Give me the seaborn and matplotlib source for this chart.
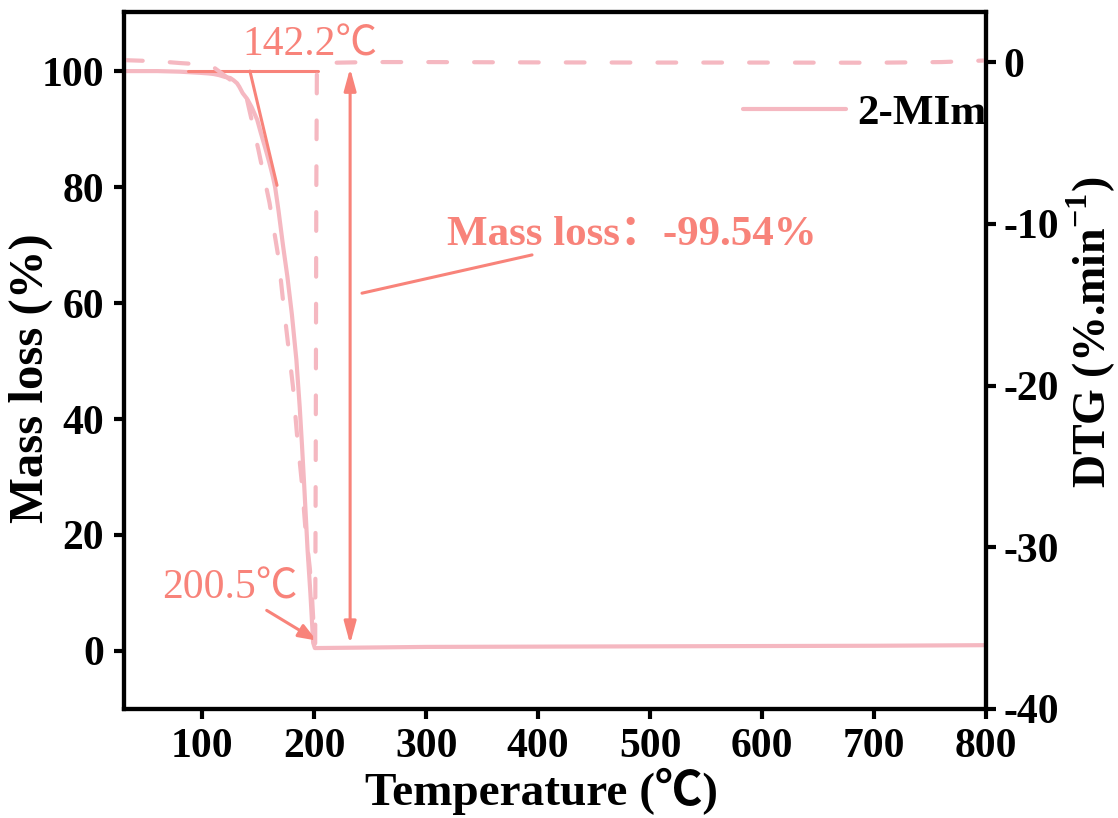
import numpy as np
import pandas as pd
import matplotlib
matplotlib.use("Agg")
import matplotlib.pyplot as plt
import seaborn as sns

# ---- data -------------------------------------------------------------
# TG curve: temperature (°C) vs remaining mass (%)
tg_temp = [30, 60, 80, 98, 105, 110, 115, 120, 125, 128, 131, 133, 136, 140,
           144, 149, 152, 157, 160, 163, 165, 168, 172, 176, 180, 184, 187,
           189, 191, 194, 196.5, 199, 200.5, 250, 300, 400, 500, 600, 700, 800]
tg_mass = [100.0, 100.0, 99.9, 99.7, 99.6, 99.5, 99.3, 99.0, 98.8, 98.4,
           97.9, 97.3, 96.2, 95.2, 93.8, 91.6, 89.5, 86.2, 84.1, 81.8, 80.0,
           76.0, 70.0, 64.5, 58.0, 50.2, 42.0, 35.5, 28.5, 17.4, 10.0, 1.4,
           0.5, 0.6, 0.7, 0.75, 0.8, 0.85, 0.9, 1.0]

# DTG curve: temperature (°C) vs mass-loss rate (%/min)
dtg_temp = [30, 60, 80, 100, 111, 125, 133, 140, 150, 160, 168, 172, 176.5,
            181, 184.5, 189, 192, 196, 198, 199.5, 200.8, 201.3, 201.8, 202.3,
            205, 210, 250, 300, 400, 500, 600, 700, 760, 800]
dtg_rate = [0.12, 0.05, -0.06, -0.15, -0.37, -1.1, -1.6, -2.35, -5.4, -8.7,
            -12.1, -14.7, -17.4, -20.1, -23.0, -26.1, -28.8, -31.3, -33.1,
            -35.0, -36.0, -24.0, -8.0, -0.7, -0.2, -0.05, 0.0, 0.0, -0.02,
            -0.03, -0.03, -0.04, 0.0, 0.1]

sample_name = "2-MIm"
onset_temp, onset_label = 142.2, "142.2℃"
end_temp, end_label = 200.5, "200.5℃"
mass_loss_label = "Mass loss：-99.54%"
mass_loss_top, mass_loss_bottom = 100.5, 1.2

# tangent construction for the onset temperature
baseline_temp = [87, 203]
baseline_mass = [100, 100]
tangent_temp = [142.5, 166.7]
tangent_mass = [100, 80.3]

x_ticks = [100, 200, 300, 400, 500, 600, 700, 800]
y_ticks = [0, 20, 40, 60, 80, 100]
y2_ticks = [0, -10, -20, -30, -40]

tg = pd.DataFrame({"Temperature": tg_temp, "Mass": tg_mass})
dtg = pd.DataFrame({"Temperature": dtg_temp, "DTG": dtg_rate})

# ---- style ------------------------------------------------------------
sns.set_theme(style="ticks")
serif = ["Liberation Serif", "Noto Sans CJK SC"]
plt.rcParams["font.family"] = serif
plt.rcParams["axes.unicode_minus"] = False
plt.rcParams["text.color"] = "black"
plt.rcParams["axes.labelcolor"] = "black"
plt.rcParams["mathtext.fontset"] = "custom"
plt.rcParams["mathtext.rm"] = "Liberation Serif:bold"
plt.rcParams["mathtext.bf"] = "Liberation Serif:bold"

curve_color = "#F5B8C1"
note_color = "#F8837A"

fig = plt.figure(figsize=(11.18, 8.18), dpi=100)
ax = fig.add_axes([0.1109, 0.1333, 0.7710, 0.8521])
ax2 = ax.twinx()

sns.lineplot(data=tg, x="Temperature", y="Mass", ax=ax, color=curve_color,
             lw=3.0, label=sample_name, sort=False, estimator=None)
sns.lineplot(data=dtg, x="Temperature", y="DTG", ax=ax2, color=curve_color,
             lw=3.0, sort=False, estimator=None, legend=False)
dline = ax2.lines[-1]
dline.set_linestyle((0, (4.5, 6.5)))
dline.set_dash_capstyle("round")

ax.set_xlim(30, 800)
ax.set_ylim(-10, 110.2)
ax2.set_ylim(-40, 3.1)

ax.set_xticks(x_ticks)
ax.set_yticks(y_ticks)
ax2.set_yticks(y2_ticks)

for a in (ax, ax2):
    for s in a.spines.values():
        s.set_linewidth(3.0)
        s.set_color("black")
    a.tick_params(axis="both", direction="out", length=7.5, width=3.0,
                  color="black", labelcolor="black")
    for lab in a.get_xticklabels() + a.get_yticklabels():
        lab.set_fontsize(30)
        lab.set_fontweight("bold")
ax.tick_params(axis="x", pad=6)
ax.tick_params(axis="y", pad=7)
ax2.tick_params(axis="y", pad=5)

ax.set_xlabel("Temperature (℃)", fontsize=34, fontweight="bold")
ax.xaxis.set_label_coords(0.484, -0.085)
ax.set_ylabel("Mass loss (%)", fontsize=35, fontweight="bold")
ax.yaxis.set_label_coords(-0.082, 0.475)
ax2.set_ylabel("DTG (%.min$^{-1}$)", fontsize=33, fontweight="bold",
               rotation=90)
ax2.yaxis.set_label_coords(1.092, 0.54)

# ---- annotations --------------------------------------------------------
ax.plot(baseline_temp, baseline_mass, color=note_color, lw=2.2)
ax.plot(tangent_temp, tangent_mass, color=note_color, lw=2.2)

ax.text(onset_temp + 53.5, 104.5, onset_label, color=note_color,
        fontsize=30, ha="center", va="center", family=serif)
ax.text(end_temp - 75.8, 10.9, end_label, color=note_color,
        fontsize=30, ha="center", va="center", family=serif)
ax.annotate("", xy=(end_temp + 1.5, 1.8), xytext=(157.5, 7.0),
            arrowprops=dict(arrowstyle="-|>,head_length=0.9,head_width=0.35",
                            color=note_color, lw=2.2, shrinkA=0, shrinkB=0))

ax.annotate("", xy=(232, mass_loss_bottom), xytext=(232, mass_loss_top),
            arrowprops=dict(arrowstyle="<|-|>,head_length=1.1,head_width=0.3",
                            color=note_color, lw=2.2, shrinkA=0, shrinkB=0))
ax.plot([242.6, 394.5], [61.7, 68.3], color=note_color, lw=2.2)
ax.text(318.5, 71.7, mass_loss_label, color=note_color, fontsize=31,
        fontweight="bold", ha="left", va="center", family=serif)

leg = ax.legend(loc="center right", bbox_to_anchor=(1.0, 0.855),
                frameon=False, borderaxespad=0, borderpad=0,
                handlelength=2.4, handletextpad=0.25,
                prop=dict(family=serif, weight="bold", size=31))

fig.savefig("out.png", dpi=100)
